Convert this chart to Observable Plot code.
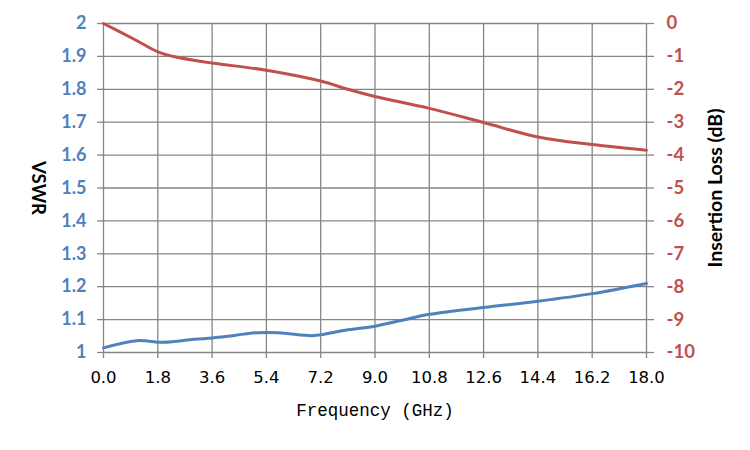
<!DOCTYPE html>
<html>
<head>
<meta charset="utf-8">
<script src="https://cdn.jsdelivr.net/npm/d3@7"></script>
<script src="https://cdn.jsdelivr.net/npm/@observablehq/plot@0.6"></script>
<style>
  html, body { margin: 0; padding: 0; background: #fff; }
  #chart { width: 750px; height: 450px; }
</style>
</head>
<body>
<div id="chart"></div>
<script>
// VSWR series (left axis)
const vswrFreq = [0, 1.1, 2.0, 3.0, 3.6, 4.0, 5.1, 5.8, 6.9, 7.2, 8.1, 9.0, 9.9, 10.8, 12.6, 14.4, 16.2, 18.0];
const vswrVal  = [1.014, 1.036, 1.031, 1.040, 1.044, 1.048, 1.060, 1.060, 1.051, 1.054, 1.069, 1.080, 1.098, 1.116, 1.137, 1.156, 1.179, 1.210];

// Insertion loss series (right axis, dB)
const lossFreq = [0, 1.0, 1.8, 2.4, 3.6, 5.4, 7.2, 8.1, 9.0, 10.8, 12.6, 14.4, 16.2, 18.0];
const lossVal  = [0, -0.47, -0.86, -1.02, -1.2, -1.42, -1.75, -2.0, -2.22, -2.58, -3.01, -3.45, -3.68, -3.85];

// Tick labels
const xTicks = [0, 1.8, 3.6, 5.4, 7.2, 9.0, 10.8, 12.6, 14.4, 16.2, 18.0];
const leftTicks = [1, 1.1, 1.2, 1.3, 1.4, 1.5, 1.6, 1.7, 1.8, 1.9, 2];
const rightTicks = [0, -1, -2, -3, -4, -5, -6, -7, -8, -9, -10];

// map loss (dB, -10..0) onto the VSWR scale (1..2)
const lossToY = (l) => 2 + l / 10;

const vswrData = vswrFreq.map((f, i) => ({f, v: vswrVal[i]}));
const lossData = lossFreq.map((f, i) => ({f, v: lossToY(lossVal[i])}));

const blue = "#4F81BD";
const red = "#C0504D";
const grid = "#868686";

const chart = Plot.plot({
  width: 750,
  height: 450,
  marginLeft: 103,
  marginRight: 104,
  marginTop: 23,
  marginBottom: 98,
  x: {domain: [0, 18]},
  y: {domain: [1, 2]},
  style: {background: "#fff"},
  marks: [
    Plot.gridX(xTicks, {stroke: grid, strokeOpacity: 1, strokeWidth: 1.3}),
    Plot.gridY(leftTicks, {stroke: grid, strokeOpacity: 1, strokeWidth: 1.3}),
    Plot.axisX(xTicks, {
      tickSize: 6, stroke: grid, strokeWidth: 1.3, tickPadding: 13,
      tickFormat: d => d.toFixed(1),
      fontFamily: "DejaVu Sans", fontSize: 16.5, fill: "#000",
      label: null
    }),
    Plot.axisY(leftTicks, {
      anchor: "left", tickSize: 6, stroke: grid, strokeWidth: 1.3, tickPadding: 11,
      tickFormat: d => (Math.round(d * 10) / 10).toString(),
      fontFamily: "Lato", fontWeight: "bold", fontSize: 18, fill: blue,
      label: null
    }),
    Plot.axisY(rightTicks.map(lossToY), {
      anchor: "right", tickSize: 7, stroke: grid, strokeWidth: 1.3, tickPadding: 13,
      tickFormat: d => Math.round((d - 2) * 10).toString(),
      fontFamily: "Lato", fontWeight: "bold", fontSize: 18.5, fill: red,
      label: null
    }),
    Plot.line(lossData, {x: "f", y: "v", stroke: red, strokeWidth: 3, curve: "catmull-rom"}),
    Plot.line(vswrData, {x: "f", y: "v", stroke: blue, strokeWidth: 3, curve: "catmull-rom"}),
    Plot.text(["VSWR"], {
      frameAnchor: "left", dx: -66, rotate: 90, textAnchor: "middle",
      fontFamily: "Lato", fontWeight: "bold", fontSize: 18.5, fill: "#000"
    }),
    Plot.text(["Insertion Loss (dB)"], {
      frameAnchor: "right", dx: 69, rotate: -90, textAnchor: "middle",
      fontFamily: "Lato", fontWeight: "bold", fontSize: 19.5, fill: "#000"
    }),
    Plot.text(["Frequency (GHz)"], {
      frameAnchor: "bottom", dy: 63, textAnchor: "middle",
      fontFamily: "Liberation Mono", fontSize: 17.5, fill: "#000"
    })
  ]
});
document.getElementById("chart").appendChild(chart);
</script>
</body>
</html>
